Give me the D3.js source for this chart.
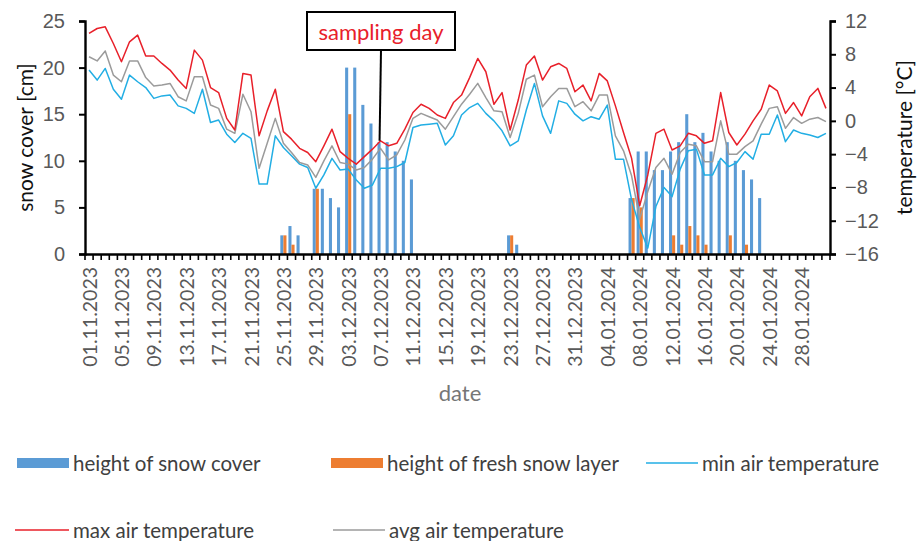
<!DOCTYPE html>
<html>
<head>
<meta charset="utf-8">
<script src="https://cdn.jsdelivr.net/npm/d3@7"></script>
<style>
  html, body { margin: 0; padding: 0; background: #fff; }
  svg { display: block; font-family: Lato, "Open Sans", sans-serif; }
</style>
</head>
<body>
<svg id="chart" width="917" height="541"></svg>
<script>
// Daily observations, 01.11.2023 – 31.01.2024
const startDate = new Date(2023, 10, 1);
const endDate = new Date(2024, 1, 1);

// height of snow cover [cm]
const snowCover = [
  0,0,0,0,0,0,0,0,0,0, 0,0,0,0,0,0,0,0,0,0,
  0,0,0,0,2,3,2,0,7,7, 6,5,20,20,16,14,12,12,11,10,
  8,0,0,0,0,0,0,0,0,0, 0,0,2,1,0,0,0,0,0,0,
  0,0,0,0,0,0,0,6,11,11, 9,9,11,12,15,12,13,11,10,12,
  10,9,8,6,0,0,0,0,0,0, 0,0
];
// height of fresh snow layer [cm]
const freshSnow = [
  0,0,0,0,0,0,0,0,0,0, 0,0,0,0,0,0,0,0,0,0,
  0,0,0,0,2,1,0,0,7,0, 0,0,15,0,0,0,0,0,0,0,
  0,0,0,0,0,0,0,0,0,0, 0,0,2,0,0,0,0,0,0,0,
  0,0,0,0,0,0,0,6,5,0, 0,0,2,1,3,2,1,0,0,2,
  0,1,0,0,0,0,0,0,0,0, 0,0
];
// min air temperature [°C]
const tempMin = [
  6.1,4.9,6.3,3.8,2.6,5.5,4.7,4.0,2.7,3.0, 3.1,1.8,1.5,0.9,3.8,-0.2,0.1,-1.6,-2.6,-1.5,
  -2.1,-7.6,-7.6,-1.8,-3.2,-4.2,-5.2,-5.6,-8.1,-6.5, -4.5,-5.9,-5.8,-7.1,-8.1,-7.7,-5.7,-5.7,-5.5,-5.0,
  -0.8,-0.5,-0.4,-0.3,-2.9,-1.8,0.7,1.6,2.1,0.9, 0.0,-1.2,-3.0,-2.4,1.3,4.5,0.6,-1.5,2.4,2.1,
  0.8,0.0,0.5,0.2,1.9,-4.6,-4.6,-9.5,-12.8,-15.3, -10.3,-8.0,-9.1,-5.8,-3.6,-3.4,-6.5,-6.5,-4.5,-5.5,
  -5.0,-3.7,-4.6,-1.6,-1.6,0.7,-2.5,-1.1,-1.5,-1.7, -2.0,-1.5
];
// max air temperature [°C]
const tempMax = [
  10.5,11.1,11.3,9.3,7.1,9.5,10.3,7.8,7.8,6.9, 6.1,4.9,3.9,8.5,7.3,4.0,3.4,0.3,-1.1,5.7,
  5.5,-1.8,1.2,3.8,-1.3,-2.2,-3.3,-3.8,-4.9,-3.0, -1.0,-3.7,-4.5,-5.2,-4.3,-3.4,-2.4,-3.0,-2.7,-1.0,
  1.0,2.0,1.5,0.7,0.3,2.2,3.1,5.2,7.5,5.9, 2.0,3.4,-1.1,2.5,6.7,7.8,4.9,6.5,6.9,6.3,
  3.5,4.3,2.4,5.7,4.8,1.8,-1.4,-4.5,-10.2,-6.5, -1.5,-1.0,-3.5,-3.0,-1.5,-1.8,-2.7,-2.4,3.4,-1.4,
  -2.9,-1.6,0.0,1.4,4.3,3.6,0.9,2.2,0.6,2.9, 3.9,1.5
];
// avg air temperature [°C]
const tempAvg = [
  7.7,7.2,8.4,5.5,4.7,7.2,7.2,5.2,4.2,4.3, 4.5,2.9,2.4,5.3,5.3,1.9,1.5,-1.0,-1.5,3.2,
  1.1,-5.7,-2.7,0.3,-2.7,-3.8,-5.0,-5.3,-6.8,-4.8, -3.0,-5.0,-5.2,-5.9,-5.6,-4.6,-3.3,-4.7,-4.1,-2.3,
  0.3,0.9,0.5,0.1,-1.0,0.5,2.0,3.2,4.5,2.8, 1.2,1.1,-2.0,0.9,5.0,5.5,1.7,2.9,3.9,3.9,
  1.7,2.3,1.2,3.1,3.1,-1.8,-3.6,-6.6,-11.8,-8.5, -5.6,-4.5,-6.4,-3.8,-2.8,-3.0,-4.9,-4.9,0.0,-4.0,
  -4.0,-3.1,-2.4,-0.4,1.5,1.7,-0.9,0.4,-0.3,0.2, 0.4,-0.1
];

const snowTicks = [0, 5, 10, 15, 20, 25];
const tempTicks = [-16, -12, -8, -4, 0, 4, 8, 12];
const labelEvery = 4;
const samplingDay = "07.12.2023";

const fmt = d3.timeFormat("%d.%m.%Y");
const days = d3.timeDays(startDate, endDate).map(fmt);

const svg = d3.select("#chart");
const plot = { left: 85, right: 830, top: 21, bottom: 254 };

const x = d3.scaleBand().domain(days).range([plot.left, plot.right]).paddingInner(0).paddingOuter(0);
const xSeries = d3.scaleBand().domain(["snow", "fresh"]).range([0, x.bandwidth()]).paddingInner(0).paddingOuter(0.32);
const ySnow = d3.scaleLinear().domain([0, 25]).range([plot.bottom, plot.top]);
const yTemp = d3.scaleLinear().domain([-16, 12]).range([plot.bottom, plot.top]);

const colors = {
  snow: "#5B9BD5",
  fresh: "#ED7D31",
  min: "#22AEE4",
  max: "#E8202A",
  avg: "#9B9B9B"
};

// bars
const barData = [
  { key: "snow", values: snowCover },
  { key: "fresh", values: freshSnow }
];
barData.forEach(s => {
  svg.append("g").selectAll("rect")
    .data(s.values.map((v, i) => ({ day: days[i], v })).filter(d => d.v > 0))
    .join("rect")
    .attr("x", d => x(d.day) + xSeries(s.key))
    .attr("width", xSeries.bandwidth())
    .attr("y", d => ySnow(d.v))
    .attr("height", d => ySnow(0) - ySnow(d.v))
    .attr("fill", colors[s.key]);
});

// temperature lines
const line = d3.line()
  .x((d, i) => x(days[i]) + x.bandwidth() / 2)
  .y(d => yTemp(d));
[["min", tempMin], ["avg", tempAvg], ["max", tempMax]].forEach(([k, vals]) => {
  svg.append("path")
    .datum(vals)
    .attr("fill", "none")
    .attr("stroke", colors[k])
    .attr("stroke-width", 1.5)
    .attr("stroke-linejoin", "round")
    .attr("d", line);
});

// axes
const axisColor = "#000";
const tickColor = "#595959";

const leftAxis = svg.append("g")
  .attr("transform", `translate(${plot.left},0)`)
  .call(d3.axisLeft(ySnow).tickValues(snowTicks).tickSize(6).tickPadding(14));
const rightAxis = svg.append("g")
  .attr("transform", `translate(${plot.right},0)`)
  .call(d3.axisRight(yTemp).tickValues(tempTicks).tickSize(6).tickPadding(9));
const bottomAxis = svg.append("g")
  .attr("transform", `translate(0,${plot.bottom})`)
  .call(d3.axisBottom(x).tickSize(0).tickFormat(""));

[leftAxis, rightAxis].forEach(g => {
  g.select(".domain").attr("stroke", axisColor).attr("stroke-width", 2.4);
  g.selectAll(".tick line").attr("stroke", axisColor).attr("stroke-width", 2);
  g.selectAll(".tick text").attr("fill", tickColor).style("font-size", "20px");
});
bottomAxis.select(".domain").attr("stroke", axisColor).attr("stroke-width", 2.4);

// category boundary ticks on the date axis
svg.append("g").selectAll("line")
  .data(days.concat(["__end"]))
  .join("line")
  .attr("x1", (d, i) => plot.left + i * x.step())
  .attr("x2", (d, i) => plot.left + i * x.step())
  .attr("y1", plot.bottom)
  .attr("y2", plot.bottom + 6)
  .attr("stroke", axisColor)
  .attr("stroke-width", 1.6);

// date labels
svg.append("g").selectAll("text")
  .data(days.filter((d, i) => i % labelEvery === 0))
  .join("text")
  .attr("transform", d => `translate(${x(d) + x.bandwidth() / 2},${plot.bottom + 13}) rotate(-90)`)
  .attr("text-anchor", "end")
  .attr("dominant-baseline", "central")
  .attr("fill", tickColor)
  .style("font-size", "19.5px")
  .text(d => d);

// axis titles
svg.append("text")
  .attr("transform", `translate(24,${(plot.top + plot.bottom) / 2}) rotate(-90)`)
  .attr("text-anchor", "middle")
  .attr("dominant-baseline", "central")
  .attr("fill", "#111")
  .style("font-size", "21px")
  .text("snow cover [cm]");
svg.append("text")
  .attr("transform", `translate(903,${(plot.top + plot.bottom) / 2}) rotate(-90)`)
  .attr("text-anchor", "middle")
  .attr("dominant-baseline", "central")
  .attr("fill", "#111")
  .style("font-size", "21px")
  .text("temperature [°C]");
svg.append("text")
  .attr("x", 460)
  .attr("y", 392)
  .attr("text-anchor", "middle")
  .attr("dominant-baseline", "central")
  .attr("fill", "#767676")
  .style("font-size", "22px")
  .text("date");

// sampling day callout
const si = days.indexOf(samplingDay);
const sx = x(samplingDay) + x.bandwidth() / 2;
const callout = { x: 307, y: 12, w: 148, h: 38 };
svg.append("line")
  .attr("x1", callout.x + callout.w / 2)
  .attr("y1", callout.y + callout.h)
  .attr("x2", sx - 1)
  .attr("y2", yTemp(tempMax[si]))
  .attr("stroke", "#000")
  .attr("stroke-width", 2);
svg.append("rect")
  .attr("x", callout.x).attr("y", callout.y)
  .attr("width", callout.w).attr("height", callout.h)
  .attr("fill", "#fff").attr("stroke", "#000").attr("stroke-width", 2);
svg.append("text")
  .attr("x", callout.x + callout.w / 2)
  .attr("y", callout.y + callout.h / 2)
  .attr("text-anchor", "middle")
  .attr("dominant-baseline", "central")
  .attr("fill", "#E8202A")
  .style("font-size", "22px")
  .text("sampling day");

// legend
const legendItems = [
  { label: "height of snow cover", key: "snow", type: "box", x: 17, y: 463 },
  { label: "height of fresh snow layer", key: "fresh", type: "box", x: 331, y: 463 },
  { label: "min air temperature", key: "min", type: "line", x: 646, y: 463 },
  { label: "max air temperature", key: "max", type: "line", x: 15, y: 530 },
  { label: "avg air temperature", key: "avg", type: "line", x: 333, y: 530 }
];
const lg = svg.append("g").selectAll("g").data(legendItems).join("g")
  .attr("transform", d => `translate(${d.x},${d.y})`);
lg.filter(d => d.type === "box").append("rect")
  .attr("x", 0).attr("y", -5).attr("width", 52).attr("height", 10)
  .attr("fill", d => colors[d.key]);
lg.filter(d => d.type === "line").append("line")
  .attr("x1", 0).attr("x2", d => d.key === "max" ? 54 : 52)
  .attr("y1", 0).attr("y2", 0)
  .attr("stroke", d => colors[d.key]).attr("stroke-width", 1.6);
lg.append("text")
  .attr("x", d => (d.key === "max" ? 54 : 52) + 4)
  .attr("y", 0)
  .attr("dominant-baseline", "central")
  .attr("fill", "#404040")
  .style("font-size", "20.5px")
  .text(d => d.label);
</script>
</body>
</html>
